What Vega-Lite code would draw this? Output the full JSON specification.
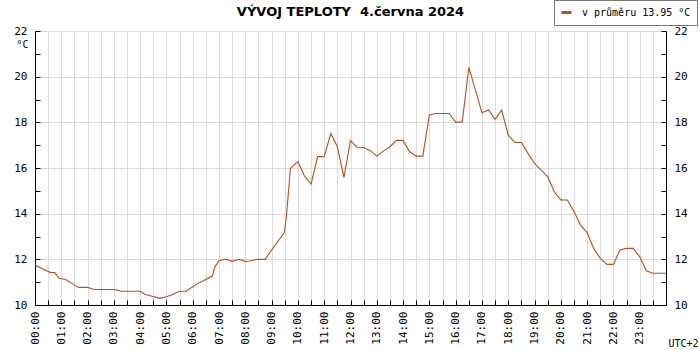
{
  "$schema": "https://vega.github.io/schema/vega-lite/v6.json",
  "autosize": "none",
  "width": 631,
  "height": 274,
  "padding": {"left": 35, "top": 31, "right": 34, "bottom": 45},
  "background": "white",
  "config": {
    "view": {"stroke": null},
    "axis": {
      "labelFont": "DejaVu Sans Mono",
      "labelFontSize": 11,
      "labelColor": "black",
      "titleFont": "DejaVu Sans Mono",
      "titleFontSize": 11,
      "titleFontWeight": "normal",
      "titleColor": "black",
      "domainColor": "black",
      "domainWidth": 1,
      "tickColor": "black",
      "tickWidth": 1,
      "gridColor": "#dcdcdc",
      "gridWidth": 1
    }
  },
  "title": {
    "text": "VÝVOJ TEPLOTY\u00a0\u00a04.června 2024",
    "font": "DejaVu Sans",
    "fontSize": 13,
    "fontWeight": "bold",
    "color": "black",
    "anchor": "middle",
    "frame": "group",
    "offset": -19
  },
  "data": {
    "values": [
      {"t": "2024-06-04T00:00:00Z", "temp": 11.75},
      {"t": "2024-06-04T00:20:00Z", "temp": 11.56},
      {"t": "2024-06-04T00:35:00Z", "temp": 11.43},
      {"t": "2024-06-04T00:45:00Z", "temp": 11.42},
      {"t": "2024-06-04T00:55:00Z", "temp": 11.17},
      {"t": "2024-06-04T01:10:00Z", "temp": 11.12},
      {"t": "2024-06-04T01:20:00Z", "temp": 11.0},
      {"t": "2024-06-04T01:30:00Z", "temp": 10.87},
      {"t": "2024-06-04T01:40:00Z", "temp": 10.77},
      {"t": "2024-06-04T02:00:00Z", "temp": 10.77},
      {"t": "2024-06-04T02:15:00Z", "temp": 10.68},
      {"t": "2024-06-04T03:00:00Z", "temp": 10.68},
      {"t": "2024-06-04T03:10:00Z", "temp": 10.64},
      {"t": "2024-06-04T03:15:00Z", "temp": 10.6},
      {"t": "2024-06-04T04:00:00Z", "temp": 10.6},
      {"t": "2024-06-04T04:10:00Z", "temp": 10.47},
      {"t": "2024-06-04T04:25:00Z", "temp": 10.39},
      {"t": "2024-06-04T04:45:00Z", "temp": 10.29},
      {"t": "2024-06-04T05:00:00Z", "temp": 10.36},
      {"t": "2024-06-04T05:15:00Z", "temp": 10.47},
      {"t": "2024-06-04T05:30:00Z", "temp": 10.6},
      {"t": "2024-06-04T05:45:00Z", "temp": 10.6},
      {"t": "2024-06-04T06:00:00Z", "temp": 10.8},
      {"t": "2024-06-04T06:15:00Z", "temp": 10.98},
      {"t": "2024-06-04T06:25:00Z", "temp": 11.06},
      {"t": "2024-06-04T06:45:00Z", "temp": 11.28},
      {"t": "2024-06-04T06:50:00Z", "temp": 11.65},
      {"t": "2024-06-04T07:00:00Z", "temp": 11.94},
      {"t": "2024-06-04T07:15:00Z", "temp": 12.0},
      {"t": "2024-06-04T07:30:00Z", "temp": 11.91},
      {"t": "2024-06-04T07:45:00Z", "temp": 12.0},
      {"t": "2024-06-04T08:00:00Z", "temp": 11.91},
      {"t": "2024-06-04T08:10:00Z", "temp": 11.93},
      {"t": "2024-06-04T08:30:00Z", "temp": 12.0},
      {"t": "2024-06-04T08:45:00Z", "temp": 12.0},
      {"t": "2024-06-04T09:00:00Z", "temp": 12.41},
      {"t": "2024-06-04T09:29:00Z", "temp": 13.17},
      {"t": "2024-06-04T09:34:00Z", "temp": 13.94},
      {"t": "2024-06-04T09:43:00Z", "temp": 15.99},
      {"t": "2024-06-04T10:00:00Z", "temp": 16.28},
      {"t": "2024-06-04T10:15:00Z", "temp": 15.65},
      {"t": "2024-06-04T10:30:00Z", "temp": 15.3},
      {"t": "2024-06-04T10:45:00Z", "temp": 16.5},
      {"t": "2024-06-04T11:00:00Z", "temp": 16.5},
      {"t": "2024-06-04T11:15:00Z", "temp": 17.52},
      {"t": "2024-06-04T11:30:00Z", "temp": 16.93},
      {"t": "2024-06-04T11:45:00Z", "temp": 15.59},
      {"t": "2024-06-04T12:00:00Z", "temp": 17.2},
      {"t": "2024-06-04T12:15:00Z", "temp": 16.91},
      {"t": "2024-06-04T12:30:00Z", "temp": 16.9},
      {"t": "2024-06-04T12:45:00Z", "temp": 16.76},
      {"t": "2024-06-04T13:00:00Z", "temp": 16.52},
      {"t": "2024-06-04T13:15:00Z", "temp": 16.74},
      {"t": "2024-06-04T13:30:00Z", "temp": 16.93},
      {"t": "2024-06-04T13:45:00Z", "temp": 17.21},
      {"t": "2024-06-04T14:00:00Z", "temp": 17.21},
      {"t": "2024-06-04T14:15:00Z", "temp": 16.71},
      {"t": "2024-06-04T14:30:00Z", "temp": 16.52},
      {"t": "2024-06-04T14:45:00Z", "temp": 16.52},
      {"t": "2024-06-04T15:00:00Z", "temp": 18.32},
      {"t": "2024-06-04T15:15:00Z", "temp": 18.39},
      {"t": "2024-06-04T15:45:00Z", "temp": 18.39},
      {"t": "2024-06-04T16:00:00Z", "temp": 18.01},
      {"t": "2024-06-04T16:15:00Z", "temp": 18.01},
      {"t": "2024-06-04T16:30:00Z", "temp": 20.41},
      {"t": "2024-06-04T16:45:00Z", "temp": 19.42},
      {"t": "2024-06-04T17:00:00Z", "temp": 18.42},
      {"t": "2024-06-04T17:15:00Z", "temp": 18.54},
      {"t": "2024-06-04T17:30:00Z", "temp": 18.13},
      {"t": "2024-06-04T17:45:00Z", "temp": 18.54},
      {"t": "2024-06-04T18:00:00Z", "temp": 17.44},
      {"t": "2024-06-04T18:15:00Z", "temp": 17.12},
      {"t": "2024-06-04T18:30:00Z", "temp": 17.12},
      {"t": "2024-06-04T18:45:00Z", "temp": 16.64},
      {"t": "2024-06-04T19:00:00Z", "temp": 16.2},
      {"t": "2024-06-04T19:30:00Z", "temp": 15.62},
      {"t": "2024-06-04T19:45:00Z", "temp": 14.96},
      {"t": "2024-06-04T20:00:00Z", "temp": 14.6},
      {"t": "2024-06-04T20:15:00Z", "temp": 14.6},
      {"t": "2024-06-04T20:30:00Z", "temp": 14.09},
      {"t": "2024-06-04T20:45:00Z", "temp": 13.5},
      {"t": "2024-06-04T21:00:00Z", "temp": 13.17},
      {"t": "2024-06-04T21:15:00Z", "temp": 12.48},
      {"t": "2024-06-04T21:30:00Z", "temp": 12.04},
      {"t": "2024-06-04T21:45:00Z", "temp": 11.78},
      {"t": "2024-06-04T22:00:00Z", "temp": 11.78},
      {"t": "2024-06-04T22:15:00Z", "temp": 12.41},
      {"t": "2024-06-04T22:30:00Z", "temp": 12.48},
      {"t": "2024-06-04T22:45:00Z", "temp": 12.48},
      {"t": "2024-06-04T23:00:00Z", "temp": 12.11},
      {"t": "2024-06-04T23:15:00Z", "temp": 11.5},
      {"t": "2024-06-04T23:30:00Z", "temp": 11.39},
      {"t": "2024-06-05T00:00:00Z", "temp": 11.39}
    ]
  },
  "encoding": {
    "x": {
      "field": "t",
      "type": "temporal",
      "scale": {
        "type": "utc",
        "domain": [1717459200000, 1717545600000],
        "nice": false
      },
      "axis": {
        "title": "UTC+2",
        "titleFontSize": 10,
        "titleX": 633,
        "titleY": 43,
        "titleAlign": "left",
        "titleBaseline": "bottom",
        "titleAngle": 0,
        "tickCount": 48,
        "tickSize": -5,
        "labelAngle": 270,
        "labelAlign": "right",
        "labelBaseline": "middle",
        "labelPadding": 11,
        "labelOverlap": false,
        "labelBound": false,
        "labelFlush": false,
        "labelExpr": "utcminutes(datum.value) == 0 && utcdate(datum.value) == 4 ? utcFormat(datum.value, '%H:%M') : ''",
        "grid": true
      }
    }
  },
  "layer": [
    {
      "mark": {"type": "line", "strokeWidth": 1.1},
      "encoding": {
        "y": {
          "field": "temp",
          "type": "quantitative",
          "scale": {"domain": [10, 22], "nice": false, "zero": false},
          "axis": {
            "orient": "left",
            "values": [10, 11, 12, 13, 14, 15, 16, 17, 18, 19, 20, 21, 22],
            "tickSize": -5,
            "labelPadding": 13,
            "labelExpr": "datum.value % 2 == 0 ? datum.label : ''",
            "gridOpacity": {"condition": {"test": "datum.value % 2 == 1", "value": 0}, "value": 1},
            "title": "°C",
            "titleFontSize": 10,
            "titleAngle": 0,
            "titleX": -19,
            "titleY": 13,
            "titleAlign": "left",
            "titleBaseline": "middle",
            "labelFlush": false,
            "labelOverlap": false
          }
        },
        "color": {
          "datum": "v průměru 13.95 °C",
          "type": "nominal",
          "scale": {"range": ["#b5501c"]},
          "legend": {
            "orient": "none",
            "legendX": 519,
            "legendY": -31,
            "title": null,
            "direction": "horizontal",
            "symbolType": "stroke",
            "symbolSize": 100,
            "symbolStrokeWidth": 3,
            "labelFont": "DejaVu Sans Mono",
            "labelFontSize": 10,
            "labelColor": "black",
            "labelOffset": 9,
            "labelLimit": 300,
            "fillColor": "white",
            "strokeColor": "#777777",
            "padding": 6
          }
        }
      }
    },
    {
      "mark": {"type": "line", "opacity": 0},
      "encoding": {
        "y": {
          "field": "temp",
          "type": "quantitative",
          "scale": {"domain": [10, 22], "nice": false, "zero": false},
          "axis": {
            "orient": "right",
            "values": [10, 11, 12, 13, 14, 15, 16, 17, 18, 19, 20, 21, 22],
            "tickSize": -5,
            "labelPadding": 13,
            "labelExpr": "datum.value % 2 == 0 ? datum.label : ''",
            "grid": false,
            "title": null,
            "labelFlush": false,
            "labelOverlap": false
          }
        }
      }
    }
  ],
  "resolve": {"axis": {"y": "independent"}}
}
